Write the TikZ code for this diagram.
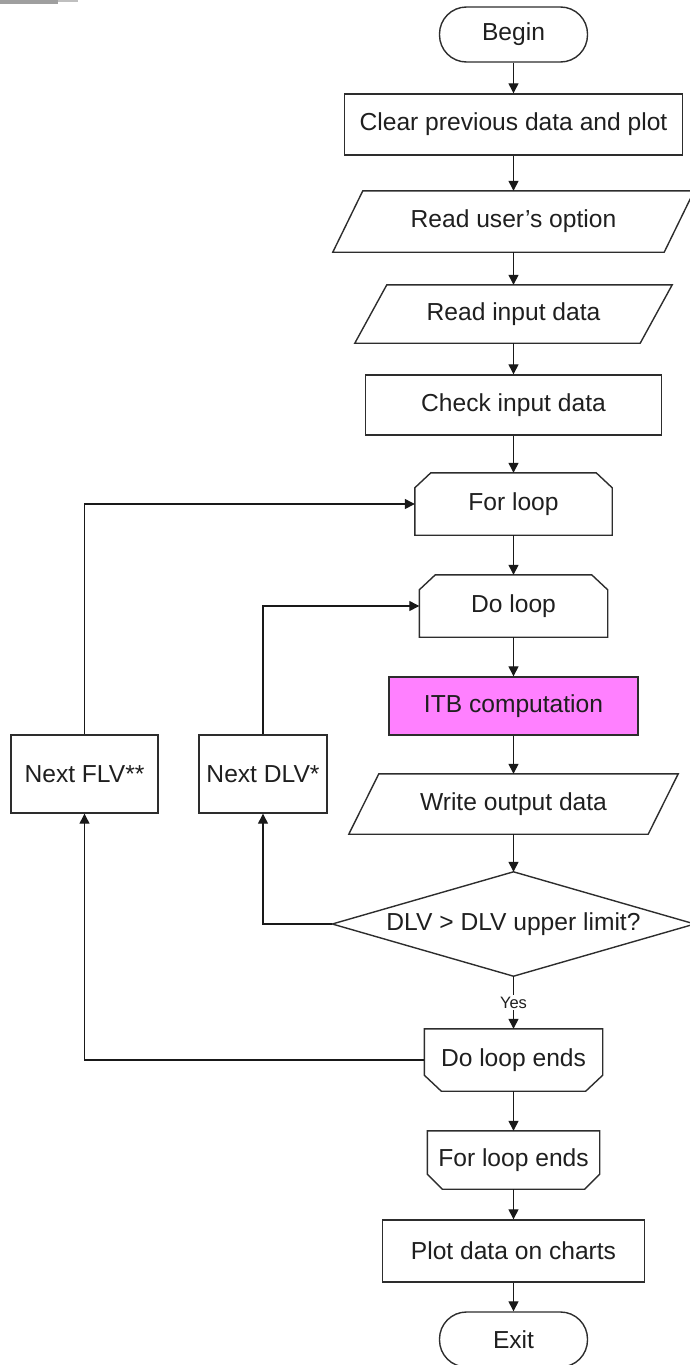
\documentclass[tikz,border=0pt]{standalone}
\usepackage{fontspec}
\setmainfont{Liberation Sans}
\usetikzlibrary{arrows.meta}
\definecolor{itbpink}{RGB}{255,128,255}
\definecolor{edge}{RGB}{45,45,45}
\begin{document}
\begin{tikzpicture}[x=1pt,y=-1pt,
  every node/.style={font=\fontsize{24.6}{29}\selectfont, text=black!88, inner sep=0pt},
  sz/.style 2 args={rectangle, minimum width=#1, minimum height=#2},
  outline/.style={draw=edge, line width=1.4pt, line join=miter},
  term/.style={outline, rounded corners=27pt},
  conn/.style={draw=black!90, line width=1.3pt, -{Triangle[length=10pt,width=10pt]}},
  lbl/.style={font=\fontsize{16.5}{19}\selectfont, fill=white, inner sep=1.5pt}]
\useasboundingbox (0,0) rectangle (689,1365);
% scan artefact at the top-left corner
\fill[gray!75] (0,0) rectangle (58,3.5);
\fill[gray!50] (58,0) rectangle (78,2.3);

% terminators and plain boxes
\node[sz={148}{55}, term] (begin) at (513.5,34.5) {Begin};
\node[sz={338}{61}, outline] (clear) at (513.5,124.5) {Clear previous data and plot};
\node[sz={331}{61}] (readopt) at (513.5,221.5) {Read user’s option};
\node[sz={285}{58}] (readin) at (513.5,314) {Read input data};
\node[sz={296}{60}, outline] (check) at (513.5,405) {Check input data};
\node[sz={197}{62}] (forloop) at (513.5,504) {For loop};
\node[sz={188}{62}] (doloop) at (513.5,606) {Do loop};
\node[sz={249}{58}, outline, fill=itbpink] (itb) at (513.5,706) {ITB computation};
\node[sz={299}{60}] (writeout) at (513.5,804) {Write output data};
\node[sz={362}{104}] (dec) at (513.5,924) {DLV > DLV upper limit?};
\node[sz={178}{62}] (doloopends) at (513.5,1060) {Do loop ends};
\node[sz={172}{58}] (forloopends) at (513.5,1160) {For loop ends};
\node[sz={262}{62}, outline] (plot) at (513.5,1251) {Plot data on charts};
\node[sz={148}{55}, term] (exit) at (513.5,1339.5) {Exit};
\node[sz={147}{78}, outline] (nextflv) at (84.5,774) {Next FLV**};
\node[sz={128}{78}, outline] (nextdlv) at (263,774) {Next DLV*};

% parallelogram outlines
\draw[outline] ([xshift=15pt]readopt.north west) -- ([xshift=15pt]readopt.north east)
  -- ([xshift=-15pt]readopt.south east) -- ([xshift=-15pt]readopt.south west) -- cycle;
\draw[outline] ([xshift=16pt]readin.north west) -- ([xshift=16pt]readin.north east)
  -- ([xshift=-16pt]readin.south east) -- ([xshift=-16pt]readin.south west) -- cycle;
\draw[outline] ([xshift=15pt]writeout.north west) -- ([xshift=15pt]writeout.north east)
  -- ([xshift=-15pt]writeout.south east) -- ([xshift=-15pt]writeout.south west) -- cycle;

% loop-limit outlines (chamfered)
\draw[outline] (forloop.south west) -- ([yshift=-15pt]forloop.north west)
  -- ([xshift=16pt]forloop.north west) -- ([xshift=-16pt]forloop.north east)
  -- ([yshift=-15pt]forloop.north east) -- (forloop.south east) -- cycle;
\draw[outline] (doloop.south west) -- ([yshift=-15pt]doloop.north west)
  -- ([xshift=16pt]doloop.north west) -- ([xshift=-16pt]doloop.north east)
  -- ([yshift=-15pt]doloop.north east) -- (doloop.south east) -- cycle;
\draw[outline] (doloopends.north west) -- ([yshift=16pt]doloopends.south west)
  -- ([xshift=17pt]doloopends.south west) -- ([xshift=-17pt]doloopends.south east)
  -- ([yshift=16pt]doloopends.south east) -- (doloopends.north east) -- cycle;
\draw[outline] (forloopends.north west) -- ([yshift=15pt]forloopends.south west)
  -- ([xshift=15pt]forloopends.south west) -- ([xshift=-15pt]forloopends.south east)
  -- ([yshift=15pt]forloopends.south east) -- (forloopends.north east) -- cycle;

% decision outline
\draw[outline] (dec.north) -- (dec.east) -- (dec.south) -- (dec.west) -- cycle;

% main flow
\draw[conn] (begin) -- (clear);
\draw[conn] (clear) -- (readopt);
\draw[conn] (readopt) -- (readin);
\draw[conn] (readin) -- (check);
\draw[conn] (check) -- (forloop);
\draw[conn] (forloop) -- (doloop);
\draw[conn] (doloop) -- (itb);
\draw[conn] (itb) -- (writeout);
\draw[conn] (writeout) -- (dec.north);
\draw[conn] (dec.south) -- node[lbl] {Yes} (doloopends);
\draw[conn] (doloopends) -- (forloopends);
\draw[conn] (forloopends) -- (plot);
\draw[conn] (plot) -- (exit);

% loop-backs
\draw[conn] (dec.west) -| (nextdlv.south);
\draw[conn] (nextdlv.north) |- (doloop.west);
\draw[conn] (doloopends.west) -| (nextflv.south);
\draw[conn] (nextflv.north) |- (forloop.west);
\end{tikzpicture}
\end{document}
